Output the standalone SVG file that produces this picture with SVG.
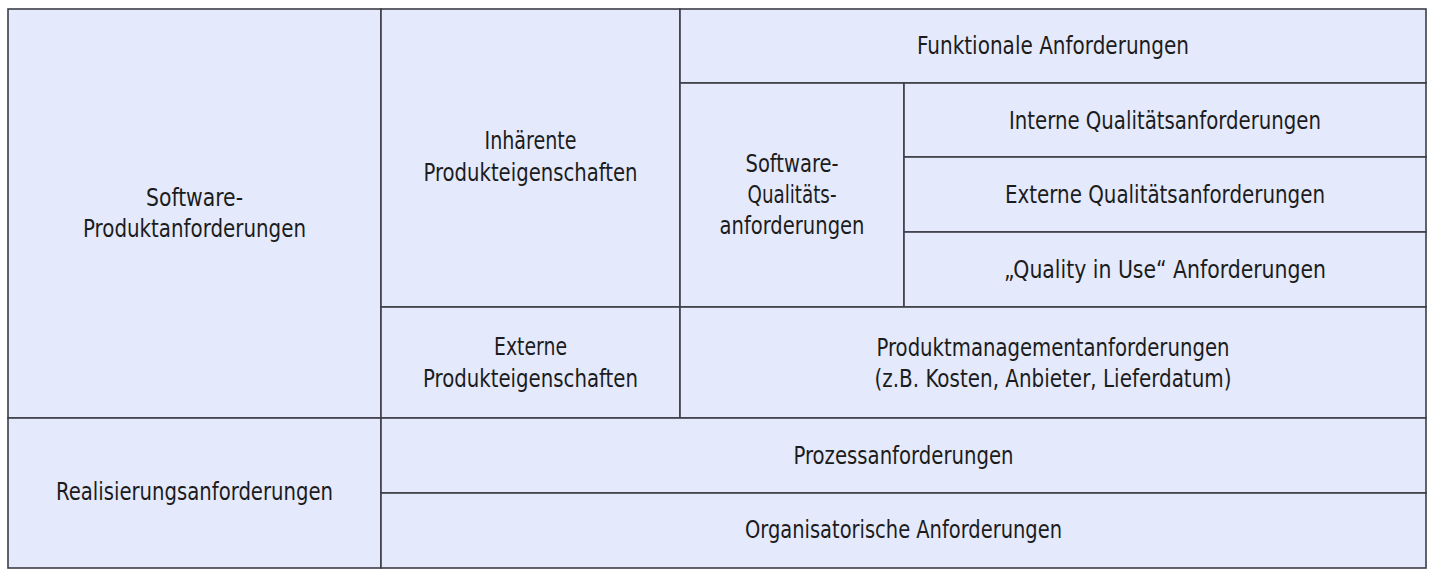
<svg xmlns="http://www.w3.org/2000/svg" width="1434" height="578" viewBox="0 0 1434 578">
<style>
.c{fill:#e4eafc;stroke:#3e3e48;stroke-width:1.6}
text{font-family:"DejaVu Sans Condensed","DejaVu Sans","Liberation Sans",sans-serif;font-size:24px;fill:#1c1c1c;text-anchor:middle}
</style>
<rect width="1434" height="578" fill="#ffffff"/>
<g id="software-produktanforderungen"><rect class="c" x="8" y="9" width="373" height="409"/>
<text x="194.5" y="206" textLength="97" lengthAdjust="spacingAndGlyphs">Software-</text>
<text x="194.5" y="237" textLength="223" lengthAdjust="spacingAndGlyphs">Produktanforderungen</text></g>
<g id="inhaerente-produkteigenschaften"><rect class="c" x="381" y="9" width="299" height="298"/>
<text x="530.5" y="149" textLength="92" lengthAdjust="spacingAndGlyphs">Inhärente</text>
<text x="530.5" y="181" textLength="214" lengthAdjust="spacingAndGlyphs">Produkteigenschaften</text></g>
<g id="funktionale-anforderungen"><rect class="c" x="680" y="9" width="746" height="74"/>
<text x="1053" y="54" textLength="272" lengthAdjust="spacingAndGlyphs">Funktionale Anforderungen</text></g>
<g id="software-qualitaetsanforderungen"><rect class="c" x="680" y="83" width="224" height="224"/>
<text x="792" y="172" textLength="93" lengthAdjust="spacingAndGlyphs">Software-</text>
<text x="792" y="203" textLength="89" lengthAdjust="spacingAndGlyphs">Qualitäts-</text>
<text x="792" y="234" textLength="145" lengthAdjust="spacingAndGlyphs">anforderungen</text></g>
<g id="interne-qualitaetsanforderungen"><rect class="c" x="904" y="83" width="522" height="74"/>
<text x="1165" y="128.5" textLength="312" lengthAdjust="spacingAndGlyphs">Interne Qualitätsanforderungen</text></g>
<g id="externe-qualitaetsanforderungen"><rect class="c" x="904" y="157" width="522" height="75"/>
<text x="1165" y="203" textLength="320" lengthAdjust="spacingAndGlyphs">Externe Qualitätsanforderungen</text></g>
<g id="quality-in-use-anforderungen"><rect class="c" x="904" y="232" width="522" height="75"/>
<text x="1165" y="278" textLength="322" lengthAdjust="spacingAndGlyphs">„Quality in Use“ Anforderungen</text></g>
<g id="externe-produkteigenschaften"><rect class="c" x="381" y="307" width="299" height="111"/>
<text x="530.5" y="355" textLength="73" lengthAdjust="spacingAndGlyphs">Externe</text>
<text x="530.5" y="387" textLength="215" lengthAdjust="spacingAndGlyphs">Produkteigenschaften</text></g>
<g id="produktmanagementanforderungen"><rect class="c" x="680" y="307" width="746" height="111"/>
<text x="1053" y="356" textLength="353" lengthAdjust="spacingAndGlyphs">Produktmanagementanforderungen</text>
<text x="1053" y="387" textLength="357" lengthAdjust="spacingAndGlyphs">(z.B. Kosten, Anbieter, Lieferdatum)</text></g>
<g id="realisierungsanforderungen"><rect class="c" x="8" y="418" width="373" height="150"/>
<text x="194.5" y="500" textLength="277" lengthAdjust="spacingAndGlyphs">Realisierungsanforderungen</text></g>
<g id="prozessanforderungen"><rect class="c" x="381" y="418" width="1045" height="75"/>
<text x="903.5" y="463.5" textLength="220" lengthAdjust="spacingAndGlyphs">Prozessanforderungen</text></g>
<g id="organisatorische-anforderungen"><rect class="c" x="381" y="493" width="1045" height="75"/>
<text x="903.5" y="537.5" textLength="317" lengthAdjust="spacingAndGlyphs">Organisatorische Anforderungen</text></g>
</svg>
